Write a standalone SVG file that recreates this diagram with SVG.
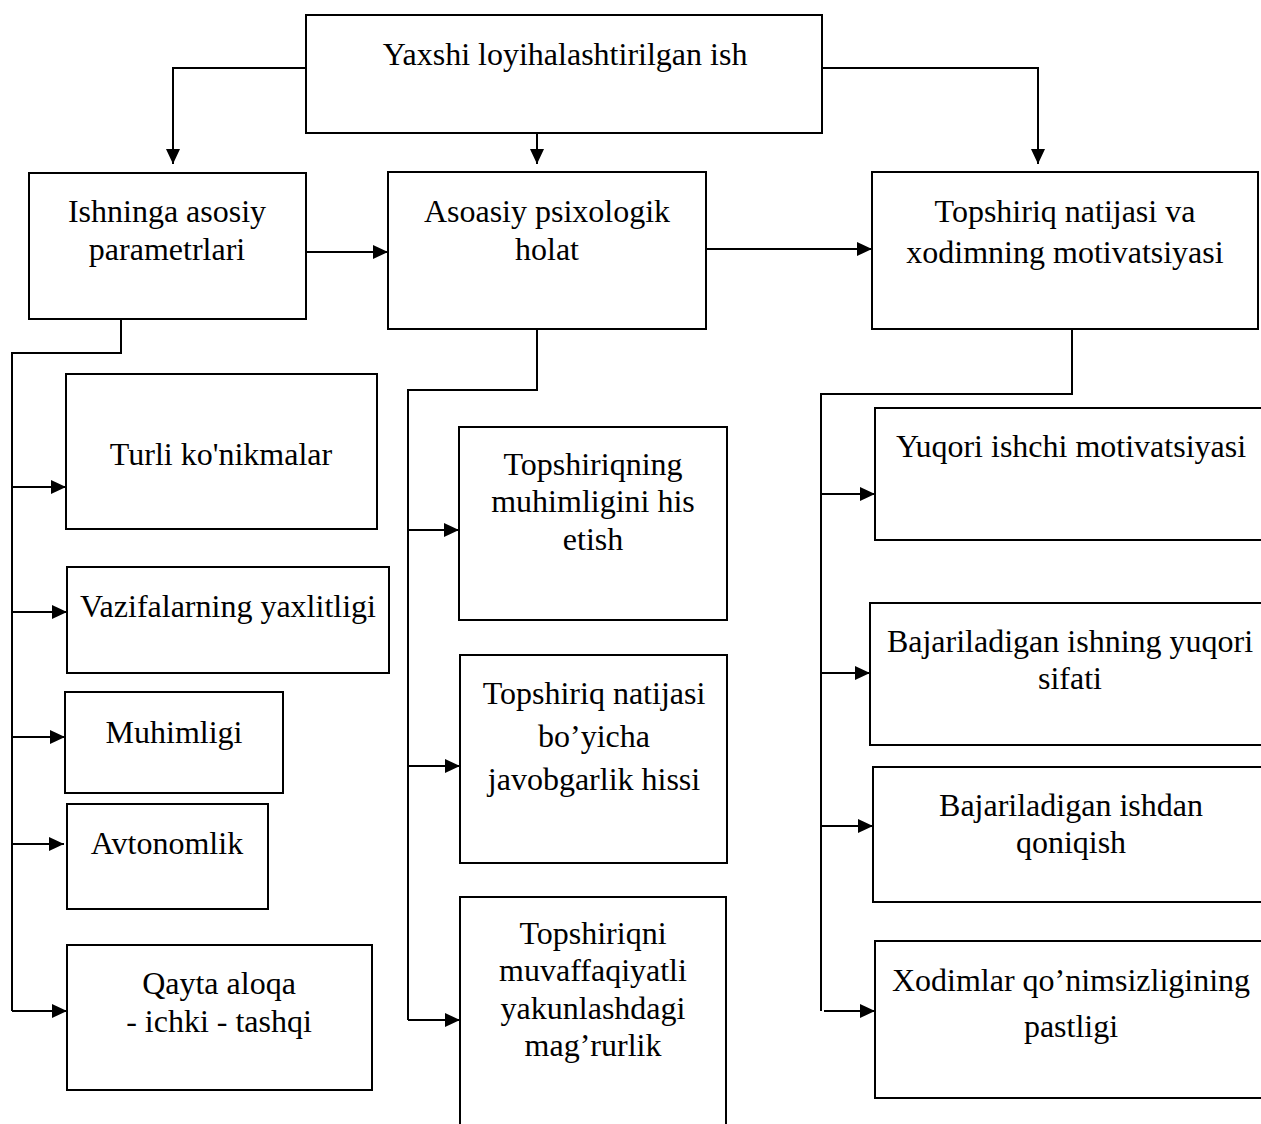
<svg xmlns="http://www.w3.org/2000/svg" width="1261" height="1124" viewBox="0 0 1261 1124">
<defs>
<style>
.box{fill:#fff;stroke:#000;stroke-width:2}
.ln{fill:none;stroke:#000;stroke-width:2}
.ar{fill:none;stroke:#000;stroke-width:2;marker-end:url(#ah)}
text{font-family:"Liberation Serif","Times New Roman",serif;font-size:32px;fill:#000;text-anchor:middle}
</style>
<marker id="ah" markerUnits="userSpaceOnUse" markerWidth="16" markerHeight="14" refX="15" refY="7" orient="auto" viewBox="0 0 16 14">
<path d="M0,0 L15,7 L0,14 z" fill="#000"/>
</marker>
</defs>
<rect width="1261" height="1124" fill="#fff"/>

<g id="connectors">
<polyline class="ar" points="306,68 173,68 173,164"/>
<polyline class="ar" points="537,133 537,164"/>
<polyline class="ar" points="822,68 1038,68 1038,164"/>
<line class="ar" x1="306" y1="252" x2="388" y2="252"/>
<line class="ar" x1="706" y1="249" x2="872" y2="249"/>
<polyline class="ln" points="121,319 121,353 12,353 12,1011"/>
<line class="ar" x1="12" y1="487" x2="66" y2="487"/>
<line class="ar" x1="12" y1="612" x2="67" y2="612"/>
<line class="ar" x1="12" y1="737" x2="65" y2="737"/>
<line class="ar" x1="12" y1="844" x2="64" y2="844"/>
<line class="ar" x1="12" y1="1011" x2="67" y2="1011"/>
<polyline class="ln" points="537,329 537,390 408,390 408,1020"/>
<line class="ar" x1="408" y1="530" x2="459" y2="530"/>
<line class="ar" x1="408" y1="766" x2="460" y2="766"/>
<line class="ar" x1="408" y1="1020" x2="460" y2="1020"/>
<polyline class="ln" points="1072,329 1072,394 821,394 821,1011"/>
<line class="ar" x1="821" y1="494" x2="875" y2="494"/>
<line class="ar" x1="821" y1="673" x2="870" y2="673"/>
<line class="ar" x1="821" y1="826" x2="873" y2="826"/>
<line class="ar" x1="824" y1="1011" x2="875" y2="1011"/>
</g>

<g id="top">
<rect class="box" x="306" y="15" width="516" height="118"/>
<text x="565" y="65">Yaxshi loyihalashtirilgan ish</text>
</g>

<g id="params">
<rect class="box" x="29" y="173" width="277" height="146"/>
<text x="167" y="222">Ishninga asosiy</text>
<text x="167" y="260">parametrlari</text>
</g>

<g id="psych">
<rect class="box" x="388" y="172" width="318" height="157"/>
<text x="547" y="222">Asoasiy psixologik</text>
<text x="547" y="260">holat</text>
</g>

<g id="result">
<rect class="box" x="872" y="172" width="386" height="157"/>
<text x="1065" y="222">Topshiriq natijasi va</text>
<text x="1065" y="263">xodimning motivatsiyasi</text>
</g>

<g id="skills">
<rect class="box" x="66" y="374" width="311" height="155"/>
<text x="221" y="465">Turli ko'nikmalar</text>
</g>

<g id="integrity">
<rect class="box" x="67" y="567" width="322" height="106"/>
<text x="228" y="617">Vazifalarning yaxlitligi</text>
</g>

<g id="significance">
<rect class="box" x="65" y="692" width="218" height="101"/>
<text x="174" y="743">Muhimligi</text>
</g>

<g id="autonomy">
<rect class="box" x="67" y="804" width="201" height="105"/>
<text x="167" y="854">Avtonomlik</text>
</g>

<g id="feedback">
<rect class="box" x="67" y="945" width="305" height="145"/>
<text x="219" y="994">Qayta aloqa</text>
<text x="219" y="1032">- ichki - tashqi</text>
</g>

<g id="meaning">
<rect class="box" x="459" y="427" width="268" height="193"/>
<text x="593" y="475">Topshiriqning</text>
<text x="593" y="512">muhimligini his</text>
<text x="593" y="550">etish</text>
</g>

<g id="responsibility">
<rect class="box" x="460" y="655" width="267" height="208"/>
<text x="594" y="704">Topshiriq natijasi</text>
<text x="594" y="747">bo’yicha</text>
<text x="594" y="790">javobgarlik hissi</text>
</g>

<g id="pride">
<rect class="box" x="460" y="897" width="266" height="250"/>
<text x="593" y="944">Topshiriqni</text>
<text x="593" y="981">muvaffaqiyatli</text>
<text x="593" y="1019">yakunlashdagi</text>
<text x="593" y="1056">mag’rurlik</text>
</g>

<g id="motivation">
<rect class="box" x="875" y="408" width="400" height="132"/>
<text x="1071" y="457">Yuqori ishchi motivatsiyasi</text>
</g>

<g id="quality">
<rect class="box" x="870" y="603" width="405" height="142"/>
<text x="1070" y="652">Bajariladigan ishning yuqori</text>
<text x="1070" y="689">sifati</text>
</g>

<g id="satisfaction">
<rect class="box" x="873" y="767" width="402" height="135"/>
<text x="1071" y="816">Bajariladigan ishdan</text>
<text x="1071" y="853">qoniqish</text>
</g>

<g id="turnover">
<rect class="box" x="875" y="941" width="400" height="157"/>
<text x="1071" y="991">Xodimlar qo’nimsizligining</text>
<text x="1071" y="1037">pastligi</text>
</g>
</svg>
